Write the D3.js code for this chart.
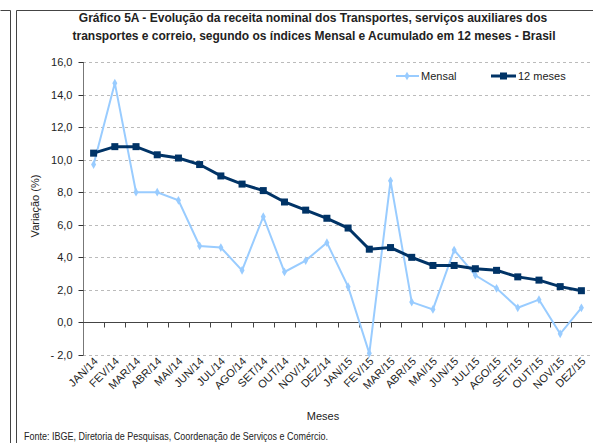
<!DOCTYPE html>
<html>
<head>
<meta charset="utf-8">
<script src="https://cdn.jsdelivr.net/npm/d3@7"></script>
<style>
  body { margin: 0; background: #fff; }
  svg { display: block; font-family: "Liberation Sans", Arial, sans-serif; }
  .narrow { font-family: "Liberation Sans Narrow", "Arial Narrow", "Liberation Sans", sans-serif; }
</style>
</head>
<body>
<svg id="chart" width="593" height="443"></svg>
<script>
const months = ["JAN/14","FEV/14","MAR/14","ABR/14","MAI/14","JUN/14","JUL/14","AGO/14","SET/14","OUT/14","NOV/14","DEZ/14",
                "JAN/15","FEV/15","MAR/15","ABR/15","MAI/15","JUN/15","JUL/15","AGO/15","SET/15","OUT/15","NOV/15","DEZ/15"];
const mensal = [9.7, 14.7, 8.0, 8.0, 7.5, 4.7, 4.6, 3.2, 6.5, 3.1, 3.8, 4.9,
                2.2, -1.9, 8.7, 1.25, 0.8, 4.45, 2.9, 2.1, 0.9, 1.4, -0.7, 0.9];
const acum12 = [10.4, 10.8, 10.8, 10.3, 10.1, 9.7, 9.0, 8.5, 8.1, 7.4, 6.9, 6.4,
                5.8, 4.5, 4.6, 4.0, 3.5, 3.5, 3.3, 3.2, 2.8, 2.6, 2.2, 1.95];
const yTicks = [-2, 0, 2, 4, 6, 8, 10, 12, 14, 16];

const svg = d3.select("#chart");
const plotLeft = 83, plotRight = 592, plotTop = 62, plotBottom = 355;

// page frames
svg.append("path").attr("d", "M0.5,10.5H10.5V443").attr("fill", "none").attr("stroke", "#444");
svg.append("path").attr("d", "M16.5,443V10.5H593").attr("fill", "none").attr("stroke", "#444");

// title
const title = svg.append("text").attr("class", "narrow")
  .attr("text-anchor", "middle").style("font-size", "12px").style("font-weight", "bold").attr("fill", "#222");
title.append("tspan").attr("x", 313).attr("y", 22)
  .text("Gráfico 5A - Evolução da receita nominal dos Transportes, serviços auxiliares dos");
title.append("tspan").attr("x", 314).attr("y", 40)
  .text("transportes e correio, segundo os índices Mensal e Acumulado em 12 meses - Brasil");

const x = d3.scaleBand().domain(months).range([plotLeft, plotRight]);
const y = d3.scaleLinear().domain([-2, 16]).range([plotBottom, plotTop]);
const cx = d => x(d) + x.bandwidth() / 2;

// grid
svg.append("g").selectAll("line").data(yTicks).join("line")
  .attr("x1", plotLeft).attr("x2", plotRight)
  .attr("y1", d => Math.round(y(d)) + 0.5).attr("y2", d => Math.round(y(d)) + 0.5)
  .attr("stroke", "#bbb").attr("stroke-dasharray", "3,3");

// y axis
const yAxis = svg.append("g").attr("transform", `translate(${plotLeft + 0.5},0)`)
  .call(d3.axisLeft(y).tickValues(yTicks).tickSize(5).tickPadding(6)
    .tickFormat(d => (d < 0 ? "- " + Math.abs(d).toFixed(1) : d.toFixed(1)).replace(".", ",")));
yAxis.select(".domain").attr("stroke", "#777").attr("d", `M0,${plotTop}V${plotBottom}`);
yAxis.selectAll(".tick line").attr("stroke", "#333");
yAxis.selectAll(".tick text").style("font-size", "11px").attr("fill", "#222");
yAxis.selectAll(".tick").attr("transform", d => `translate(0,${Math.round(y(d)) + 0.5})`);

// x axis on zero line
const y0 = Math.round(y(0)) + 0.5;
const xAxis = svg.append("g").attr("transform", `translate(0,${y0})`);
xAxis.append("line").attr("x1", plotLeft).attr("x2", plotRight).attr("stroke", "#444");
xAxis.selectAll(".xt").data(months.slice(1)).join("line")
  .attr("x1", d => Math.round(x(d)) + 0.5).attr("x2", d => Math.round(x(d)) + 0.5)
  .attr("y1", 0).attr("y2", 5).attr("stroke", "#444");

// x labels
svg.append("g").selectAll("text").data(months).join("text")
  .attr("transform", d => `translate(${cx(d) + 5},${362}) rotate(-45)`)
  .attr("text-anchor", "end").style("font-size", "11px").attr("fill", "#222")
  .text(d => d);

// axis titles
svg.append("text").attr("transform", "translate(39,206) rotate(-90)")
  .attr("text-anchor", "middle").style("font-size", "11px").attr("fill", "#222").text("Variação (%)");
svg.append("text").attr("x", 323).attr("y", 420)
  .attr("text-anchor", "middle").style("font-size", "11px").attr("fill", "#222").text("Meses");

// source
svg.append("text").attr("class", "narrow").attr("x", 24).attr("y", 440)
  .style("font-size", "10.5px").attr("fill", "#222")
  .attr("textLength", 304).attr("lengthAdjust", "spacingAndGlyphs")
  .text("Fonte: IBGE, Diretoria de Pesquisas, Coordenação de Serviços e Comércio.");

const line = d3.line().x((d, i) => cx(months[i])).y(d => y(d));
const lightBlue = "#99ccff", navy = "#003366";
const diamond = d3.symbol().type(d3.symbolDiamond).size(22);

// mensal
svg.append("path").datum(mensal).attr("d", line).attr("fill", "none")
  .attr("stroke", lightBlue).attr("stroke-width", 2);
svg.append("g").selectAll("path").data(mensal).join("path")
  .attr("transform", (d, i) => `translate(${cx(months[i])},${y(d)})`)
  .attr("d", diamond()).attr("fill", lightBlue);

// 12 meses
svg.append("path").datum(acum12).attr("d", line).attr("fill", "none")
  .attr("stroke", navy).attr("stroke-width", 3);
svg.append("g").selectAll("rect").data(acum12).join("rect")
  .attr("x", (d, i) => cx(months[i]) - 3.5).attr("y", d => y(d) - 3.5)
  .attr("width", 7).attr("height", 7).attr("fill", navy);

// legend
const lg = svg.append("g").attr("transform", "translate(0,76)");
lg.append("line").attr("x1", 396).attr("x2", 419).attr("stroke", lightBlue).attr("stroke-width", 2);
lg.append("path").attr("transform", "translate(407,0)").attr("d", diamond()).attr("fill", lightBlue);
lg.append("text").attr("x", 421).attr("y", 4).style("font-size", "11px").attr("fill", "#222").text("Mensal");
lg.append("line").attr("x1", 491).attr("x2", 516).attr("stroke", navy).attr("stroke-width", 3);
lg.append("rect").attr("x", 500).attr("y", -3.5).attr("width", 7).attr("height", 7).attr("fill", navy);
lg.append("text").attr("x", 518).attr("y", 4).style("font-size", "11px").attr("fill", "#222").text("12 meses");
</script>
</body>
</html>
